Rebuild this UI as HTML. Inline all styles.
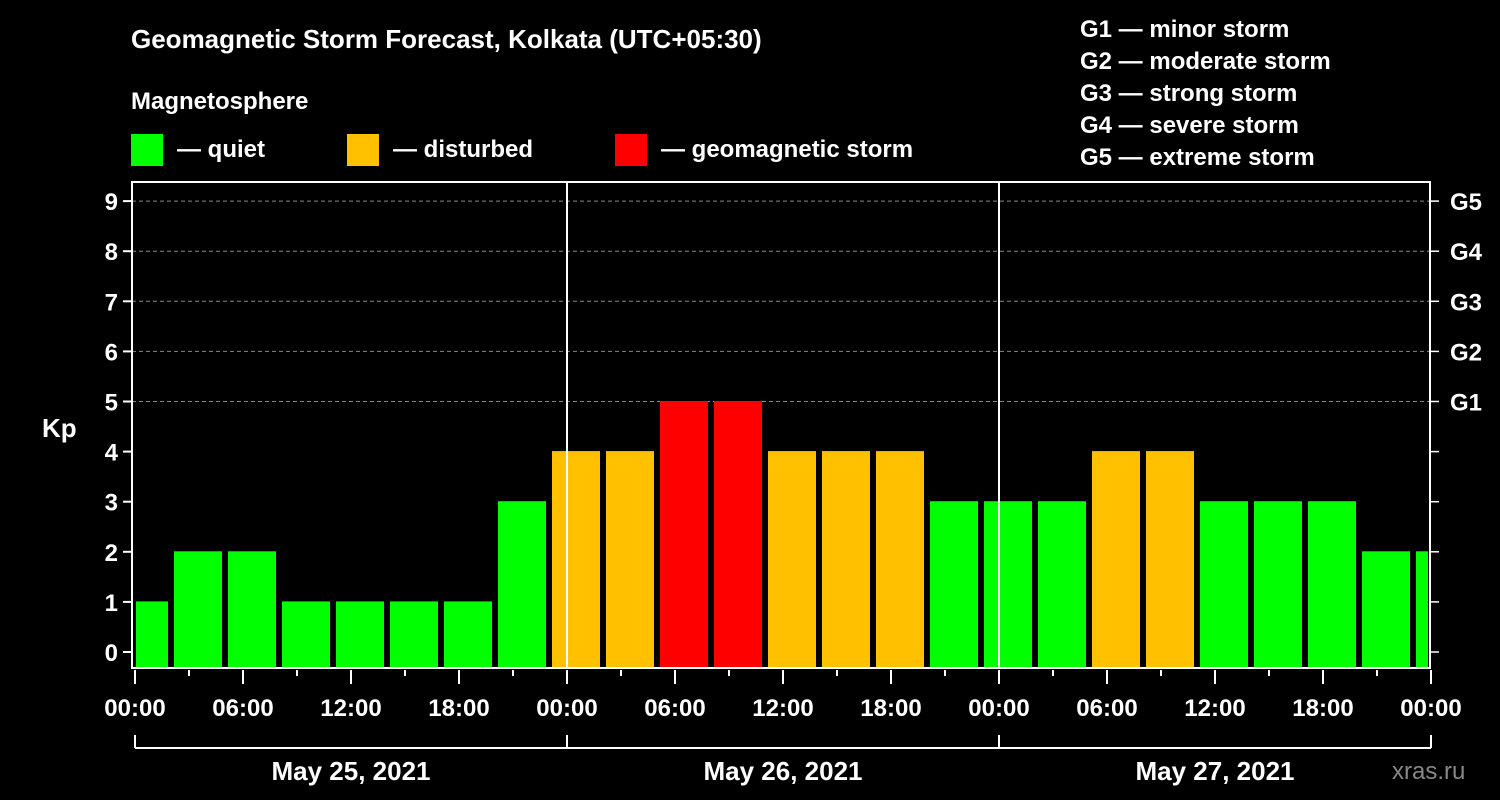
<!DOCTYPE html>
<html><head><meta charset="utf-8"><style>
html,body{margin:0;padding:0;background:#000;}
svg{display:block;font-family:"Liberation Sans",Arial,sans-serif;font-weight:bold;}
</style></head><body>
<svg id="chart" width="1500" height="800" viewBox="0 0 1500 800">
<rect x="0" y="0" width="1500" height="800" fill="#000"/>
<text x="131" y="48" fill="#fff" font-size="26">Geomagnetic Storm Forecast, Kolkata (UTC+05:30)</text>
<text x="131" y="109" fill="#fff" font-size="24">Magnetosphere</text>
<g><rect x="131" y="134" width="32" height="32" fill="#00ff00"/><text x="177" y="157" fill="#fff" font-size="24">— quiet</text></g>
<g><rect x="347" y="134" width="32" height="32" fill="#ffc000"/><text x="393" y="157" fill="#fff" font-size="24">— disturbed</text></g>
<g><rect x="615" y="134" width="32" height="32" fill="#ff0000"/><text x="661" y="157" fill="#fff" font-size="24">— geomagnetic storm</text></g>
<g fill="#fff" font-size="24">
<text x="1080" y="37">G1 — minor storm</text>
<text x="1080" y="69">G2 — moderate storm</text>
<text x="1080" y="101">G3 — strong storm</text>
<text x="1080" y="133">G4 — severe storm</text>
<text x="1080" y="165">G5 — extreme storm</text>
</g>
<text x="42" y="437" fill="#fff" font-size="26">Kp</text>
<text x="1392" y="779" fill="#888" font-size="24" font-weight="normal">xras.ru</text>
<g id="grid"></g><g id="bars"></g><g id="axes"></g>
</svg>
<script>
const kpValues=[1,2,2,1,1,1,1,3,4,4,5,5,4,4,4,3,3,3,4,4,3,3,3,2,2];
const xTickLabels=["00:00","06:00","12:00","18:00","00:00","06:00","12:00","18:00","00:00","06:00","12:00","18:00","00:00"];
const dateLabels=["May 25, 2021","May 26, 2021","May 27, 2021"];
const yTickLabels=["0","1","2","3","4","5","6","7","8","9"];
const gLabels=["G1","G2","G3","G4","G5"];
const NS="http://www.w3.org/2000/svg";
const X0=135,PX_H=18,Y0=652,PX_K=50.1,PLOT_L=132,PLOT_R=1430,PLOT_T=182,PLOT_B=668;
const xs=h=>X0+h*PX_H, ys=k=>Y0-k*PX_K;
function mk(p,tag,at){const e=document.createElementNS(NS,tag);for(const k in at)e.setAttribute(k,at[k]);p.appendChild(e);return e;}
const grid=document.getElementById('grid'),bars=document.getElementById('bars'),axes=document.getElementById('axes');
for(let k=5;k<=9;k++){const l=mk(grid,'line',{x1:PLOT_L,x2:PLOT_R,y1:ys(k),y2:ys(k),stroke:'#888','stroke-dasharray':'4,3','stroke-width':1});

}
kpValues.forEach((v,i)=>{
 const start=-1+3*i;let x1=xs(start)+3,x2=xs(start+3)-3;
 x1=Math.max(x1,PLOT_L+4);x2=Math.min(x2,PLOT_R-2);
 const c=v>=5?'#ff0000':(v>=4?'#ffc000':'#00ff00');
 const yTop=ys(v)-0.5;
 const r=mk(bars,'rect',{x:x1,y:yTop,width:x2-x1,height:PLOT_B-1-yTop,fill:c});
 
 
});
// day separators
[1,2].forEach(d=>{const l=mk(axes,'line',{x1:xs(24*d),x2:xs(24*d),y1:PLOT_T,y2:PLOT_B,stroke:'#fff','stroke-width':2});

});
const fr=mk(axes,'rect',{x:PLOT_L,y:PLOT_T,width:PLOT_R-PLOT_L,height:PLOT_B-PLOT_T,fill:'none',stroke:'#fff','stroke-width':2});


yTickLabels.forEach((t,k)=>{
 mk(axes,'line',{x1:PLOT_L-9,x2:PLOT_L,y1:ys(k),y2:ys(k),stroke:'#fff','stroke-width':2});
 mk(axes,'line',{x1:PLOT_R,x2:PLOT_R+9,y1:ys(k),y2:ys(k),stroke:'#fff','stroke-width':1.5});
 const tx=mk(axes,'text',{x:PLOT_L-14,y:ys(k)+9,fill:'#fff','font-size':24,'text-anchor':'end'});tx.textContent=t;
 
 
});
gLabels.forEach((g,i)=>{const tx=mk(axes,'text',{x:1450,y:ys(5+i)+9,fill:'#fff','font-size':24});tx.textContent=g;
 
 });
for(let h=0;h<=72;h+=3){const major=h%6===0;mk(axes,'line',{x1:xs(h),x2:xs(h),y1:PLOT_B+2,y2:PLOT_B+(major?16:8),stroke:'#fff','stroke-width':2});}
xTickLabels.forEach((t,i)=>{const tx=mk(axes,'text',{x:xs(6*i),y:716,fill:'#fff','font-size':24,'text-anchor':'middle'});tx.textContent=t;
 
 });
mk(axes,'line',{x1:xs(0),x2:xs(72),y1:748,y2:748,stroke:'#fff','stroke-width':2});
for(let d=0;d<=3;d++)mk(axes,'line',{x1:xs(24*d),x2:xs(24*d),y1:735,y2:748,stroke:'#fff','stroke-width':2});
dateLabels.forEach((t,i)=>{const tx=mk(axes,'text',{x:xs(24*i+12),y:780,fill:'#fff','font-size':26,'text-anchor':'middle'});tx.textContent=t;
 
 });
</script>
</body></html>
